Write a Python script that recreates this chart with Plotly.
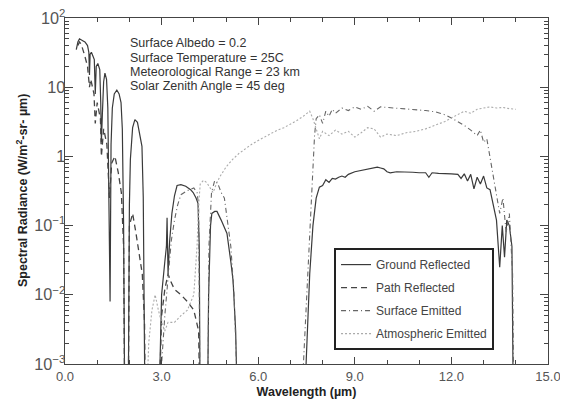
import plotly.graph_objects as go

# ---------------- data ----------------
gr_x = [0.35, 0.40, 0.45, 0.50, 0.55, 0.62, 0.70, 0.74, 0.76, 0.78, 0.82, 0.87, 0.91, 0.94, 0.97,
        1.02, 1.08, 1.11, 1.13, 1.16, 1.20, 1.24, 1.29, 1.33, 1.36, 1.40, 1.43, 1.47, 1.53, 1.61,
        1.68, 1.74, 1.78, 1.82, 1.86, 1.96, 2.00, 2.03, 2.10, 2.17, 2.25, 2.32, 2.39, 2.43, 2.47,
        2.49, 2.90, 2.95, 3.00, 3.10, 3.15, 3.17, 3.20, 3.25, 3.32, 3.40, 3.48, 3.60, 3.75, 3.90,
        3.98, 4.07, 4.13, 4.17, 4.20, 4.42, 4.46, 4.52, 4.56, 4.65, 4.72, 4.85, 5.03, 5.15, 5.22,
        5.30, 5.37, 7.40, 7.50, 7.60, 7.70, 7.80, 7.90, 8.00, 8.10, 8.20, 8.30, 8.40, 8.50, 8.60,
        8.70, 8.80, 9.00, 9.20, 9.40, 9.60, 9.70, 9.80, 9.90, 10.0, 10.1, 10.3, 10.5, 10.8, 11.0,
        11.2, 11.3, 11.4, 11.6, 11.8, 12.0, 12.2, 12.3, 12.4, 12.5, 12.6, 12.7, 12.8, 12.9, 13.0,
        13.1, 13.2, 13.3, 13.4, 13.5, 13.58, 13.65, 13.72, 13.8, 13.88, 13.93]
gr_y = [35, 45, 50, 49, 47, 45, 40, 32, 15, 30, 32, 28, 25, 8, 20,
        22, 18, 6, 1.6, 4, 12, 16, 13, 5, 0.5, 0.008, 1.5, 5, 8, 9.1,
        8, 6, 2.5, 0.1, 1e-4, 1e-4, 0.2, 0.9, 2.6, 3.4, 3.1, 2.2, 1.4, 0.26, 0.01,
        1e-4, 1e-4, 0.001, 0.01, 0.03, 0.05, 0.13, 0.02, 0.06, 0.15, 0.27, 0.38, 0.39, 0.37, 0.33,
        0.30, 0.25, 0.21, 0.05, 1e-4, 1e-4, 0.01, 0.10, 0.15, 0.16, 0.16, 0.12, 0.077, 0.03, 0.016,
        0.003, 1e-4, 1e-4, 0.002, 0.02, 0.10, 0.25, 0.36, 0.38, 0.46, 0.42, 0.48, 0.47, 0.50, 0.52,
        0.50, 0.55, 0.60, 0.63, 0.66, 0.70, 0.70, 0.68, 0.66, 0.60, 0.58, 0.60, 0.60, 0.59, 0.58,
        0.58, 0.50, 0.58, 0.57, 0.57, 0.56, 0.55, 0.48, 0.56, 0.44, 0.55, 0.34, 0.50, 0.40, 0.52,
        0.35, 0.33, 0.20, 0.12, 0.025, 0.10, 0.035, 0.12, 0.10, 0.05, 1e-4]

pr_x = [0.40, 0.45, 0.50, 0.55, 0.60, 0.70, 0.76, 0.80, 0.90, 0.94, 1.00, 1.10, 1.13, 1.20, 1.30,
        1.38, 1.45, 1.55, 1.65, 1.75, 1.82, 1.86, 1.96, 2.00, 2.10, 2.20, 2.30, 2.40, 2.47, 2.50,
        2.90, 3.00, 3.10, 3.20, 3.30, 3.40, 3.60, 3.80, 4.00, 4.15, 4.20]
pr_y = [40, 45, 42, 36, 30, 20, 10, 13, 8, 3, 6, 3.5, 1.0, 2.5, 1.5,
        0.25, 0.8, 1.0, 0.6, 0.3, 0.05, 1e-4, 1e-4, 0.10, 0.15, 0.08, 0.04, 0.02, 0.004, 1e-4,
        1e-4, 0.005, 0.012, 0.02, 0.015, 0.012, 0.01, 0.008, 0.006, 0.003, 1e-4]

se_x = [2.90, 3.00, 3.10, 3.20, 3.30, 3.40, 3.50, 3.60, 3.80, 4.00, 4.10, 4.15, 4.18, 4.20, 4.43,
        4.47, 4.55, 4.65, 4.75, 4.85, 4.95, 5.05, 5.15, 5.25, 5.35, 5.40, 7.30, 7.40, 7.50, 7.60,
        7.70, 7.75, 7.80, 7.90, 8.00, 8.10, 8.20, 8.30, 8.40, 8.60, 8.80, 9.00, 9.20, 9.40, 9.60,
        9.80, 10.0, 10.3, 10.6, 10.9, 11.2, 11.5, 11.8, 12.0, 12.2, 12.4, 12.6, 12.8, 12.9, 13.0,
        13.1, 13.2, 13.3, 13.4, 13.5, 13.6, 13.7, 13.8, 13.85, 13.9, 13.95]
se_y = [1e-4, 0.001, 0.005, 0.02, 0.06, 0.12, 0.20, 0.28, 0.32, 0.35, 0.30, 0.20, 0.01, 1e-4, 1e-4,
        0.05, 0.30, 0.45, 0.40, 0.30, 0.25, 0.12, 0.05, 0.01, 0.001, 1e-4, 1e-4, 0.001, 0.01, 0.10,
        0.60, 2.0, 3.5, 4.0, 3.0, 4.5, 3.8, 4.8, 4.2, 5.0, 4.6, 5.2, 4.8, 5.3, 4.5,
        5.2, 5.1, 5.0, 4.9, 4.8, 4.6, 4.4, 4.0, 3.6, 3.2, 2.8, 2.4, 2.0, 2.4, 1.6,
        1.8, 1.0, 0.5, 0.3, 0.15, 0.25, 0.08, 0.15, 0.05, 0.02, 1e-4]

ae_x = [2.50, 2.60, 2.70, 2.80, 2.90, 3.00, 3.10, 3.20, 3.40, 3.60, 3.80, 4.00, 4.10, 4.15, 4.20,
        4.30, 4.40, 4.50, 4.60, 4.70, 4.80, 5.00, 5.20, 5.40, 5.60, 5.80, 6.00, 6.20, 6.40, 6.60,
        6.80, 7.00, 7.20, 7.40, 7.60, 7.70, 7.80, 7.90, 8.00, 8.20, 8.40, 8.60, 8.80, 9.00, 9.20,
        9.40, 9.60, 9.80, 10.0, 10.3, 10.6, 10.9, 11.2, 11.5, 11.8, 12.0, 12.2, 12.4, 12.6, 12.8,
        13.0, 13.2, 13.4, 13.6, 13.8, 14.0]
ae_y = [1e-4, 0.002, 0.006, 0.010, 0.006, 0.004, 0.003, 0.004, 0.004, 0.005, 0.006, 0.010, 0.05, 0.20, 0.40,
        0.45, 0.42, 0.35, 0.30, 0.40, 0.50, 0.70, 0.90, 1.10, 1.30, 1.50, 1.70, 1.90, 2.10, 2.40,
        2.60, 2.90, 3.30, 3.80, 4.50, 3.50, 2.50, 1.80, 2.30, 2.00, 2.40, 2.10, 2.30, 1.90, 2.20,
        2.60, 2.50, 1.90, 2.10, 2.00, 2.20, 2.30, 2.50, 2.80, 3.20, 3.60, 4.00, 4.50, 4.20, 4.80,
        5.00, 5.20, 5.00, 5.10, 4.90, 4.80]

x_tickvals = [0, 3, 6, 9, 12, 15]
annotation_lines = ["Surface Albedo = 0.2", "Surface Temperature = 25C",
                    "Meteorological Range = 23 km", "Solar Zenith Angle = 45 deg"]
y_title = "<b>Spectral Radiance (W/m<sup>2</sup>-sr- µm)</b>"
x_title = "<b>Wavelength (µm)</b>"

FONT = "Liberation Sans, Arial"

# ---------------- figure ----------------
fig = go.Figure()
fig.add_trace(go.Scatter(x=gr_x, y=gr_y, mode="lines", name="Ground Reflected",
                         legendgroup="a", line=dict(color="#3a3a3a", width=1.2)))
fig.add_trace(go.Scatter(x=pr_x, y=pr_y, mode="lines", name="Path Reflected",
                         legendgroup="b", line=dict(color="#444444", width=1.3, dash="6px,4px")))
fig.add_trace(go.Scatter(x=se_x, y=se_y, mode="lines", name="Surface Emitted",
                         legendgroup="c", line=dict(color="#666666", width=1.1, dash="5px,3px,1px,3px")))
fig.add_trace(go.Scatter(x=ae_x, y=ae_y, mode="lines", name="Atmospheric Emitted",
                         legendgroup="d", line=dict(color="#aaaaaa", width=1.1, dash="2px,2px")))

for i, line in enumerate(annotation_lines):
    fig.add_annotation(x=0.131, y=0.927 - i * 0.0415, xref="paper", yref="paper",
                       xanchor="left", yanchor="middle", showarrow=False, text=line,
                       font=dict(family=FONT, size=12.5, color="#333333"))

# y axis title placed as a rotated annotation
fig.add_annotation(x=-0.089, y=0.5, xref="paper", yref="paper", textangle=-90,
                   xanchor="center", yanchor="middle", showarrow=False, text=y_title,
                   font=dict(family=FONT, size=12.5, color="#222222"))

axis_common = dict(showline=True, linecolor="#444444", linewidth=1.2, mirror="allticks",
                   ticks="inside", tickcolor="#444444", showgrid=False, zeroline=False,
                   automargin=False, ticklabeloverflow="allow",
                   tickfont=dict(family=FONT, size=13, color="#555555"))

fig.update_xaxes(range=[0, 15], tickvals=x_tickvals, tickformat=".1f", ticklen=7,
                 minor=dict(dtick=1, ticks="inside", ticklen=4, tickcolor="#444444"),
                 title=dict(text=x_title, standoff=4,
                            font=dict(family=FONT, size=12.5, color="#222222")),
                 **axis_common)
fig.update_yaxes(type="log", range=[-3, 2], dtick=1, exponentformat="power", ticklen=8,
                 ticklabelstandoff=-4,
                 minor=dict(ticks="inside", ticklen=4, tickcolor="#444444", dtick="D1"),
                 **axis_common)

# page body has an 8px default margin: figure is 560x400 so the plot lands where the reference has it
fig.update_layout(
    width=560, height=400,
    margin=dict(l=57, r=20, t=10, b=44),
    paper_bgcolor="white", plot_bgcolor="white",
    showlegend=True,
    legend=dict(x=0.557, y=0.335, xanchor="left", yanchor="top",
                bgcolor="white", bordercolor="#222222", borderwidth=2,
                tracegroupgap=4, itemwidth=30,
                font=dict(family=FONT, size=12, color="#444444")),
)

fig.write_html("out.html")
